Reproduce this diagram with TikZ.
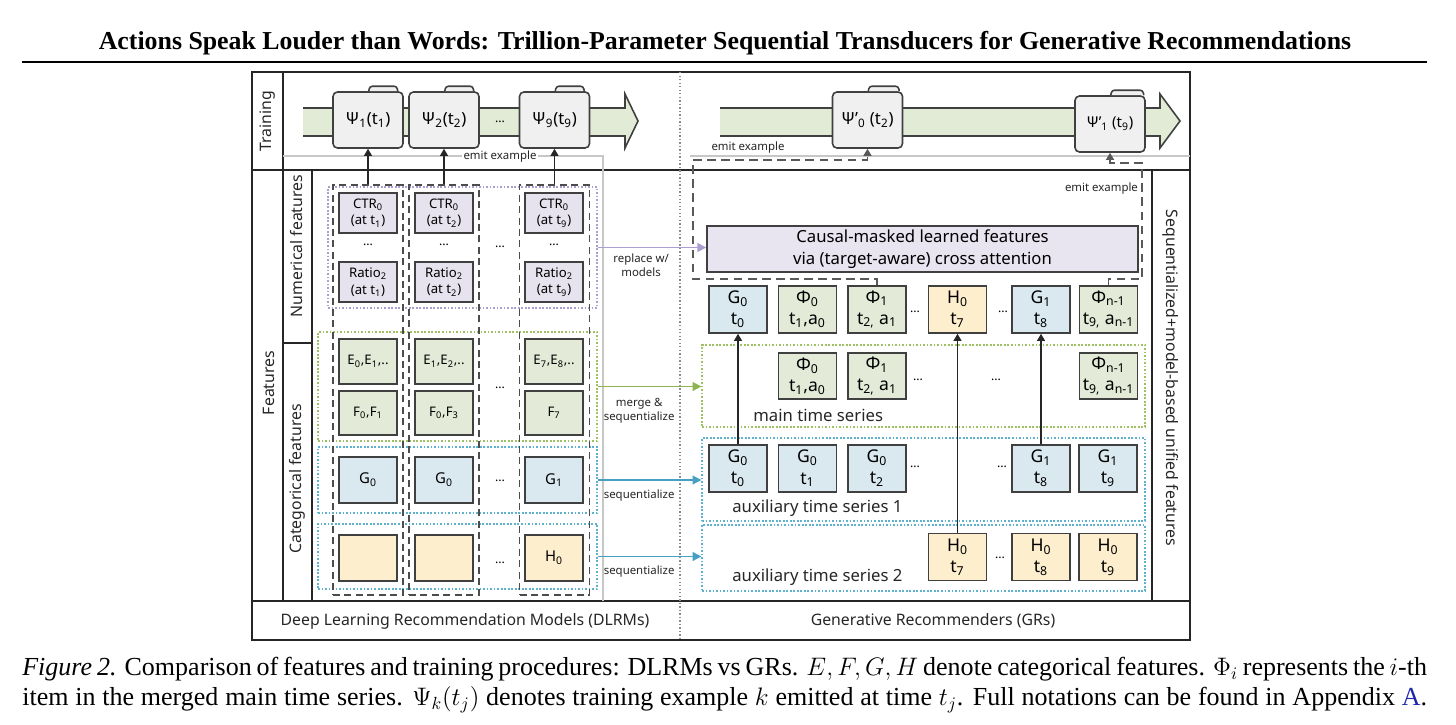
\documentclass[tikz,border=0pt]{standalone}
\usepackage{fontspec}
\setmainfont{Liberation Serif}
\setsansfont{Noto Sans}
\usepackage{tikz}
\usetikzlibrary{arrows.meta,calc}

\definecolor{bandgreen}{RGB}{226,235,214}
\definecolor{numfill}{RGB}{231,227,238}
\definecolor{effill}{RGB}{227,234,215}
\definecolor{gfill}{RGB}{218,233,240}
\definecolor{hfill}{RGB}{253,239,206}
\definecolor{causalfill}{RGB}{233,229,240}
\definecolor{purpleline}{RGB}{172,158,208}
\definecolor{greenline}{RGB}{160,192,100}
\definecolor{greenarrow}{RGB}{140,180,80}
\definecolor{blueline}{RGB}{95,178,205}
\definecolor{bluearrow}{RGB}{70,160,195}
\definecolor{linkblue}{RGB}{30,40,170}

\newcommand{\lo}[1]{\textsubscript{#1}}

\begin{document}
\begin{tikzpicture}[
    x=0.02cm, y=-0.02cm,
    frame/.style={draw=black!85, line width=1.1pt},
    sepline/.style={draw=black!85, line width=0.8pt},
    divider/.style={draw=black!45, line width=0.8pt, dash pattern=on 0.8pt off 1.2pt},
    faint/.style={draw=black!22, line width=0.6pt},
    band/.style={fill=bandgreen, draw=black!75, line width=0.9pt},
    psibox/.style={rectangle, rounded corners=2.5pt, draw=black!75, fill=black!6, line width=0.9pt,
                   minimum width=1.4cm, minimum height=1.12cm, inner sep=0pt,
                   font=\sffamily\fontsize{9.5}{11}\selectfont},
    tabshape/.style={draw=black!75, fill=black!6, line width=0.9pt, rounded corners=1.5pt},
    colbox/.style={rectangle, draw=black!70, line width=0.9pt, dash pattern=on 4pt off 2.5pt,
                   minimum width=1.4cm, minimum height=8.2cm, inner sep=0pt},
    grp/.style={rectangle, line width=0.8pt, dash pattern=on 1pt off 1pt, inner sep=0pt},
    fbox/.style={rectangle, draw=black!75, line width=0.9pt, minimum width=1.16cm, inner sep=0pt,
                 align=center, font=\sffamily\fontsize{7.5}{9.5}\selectfont},
    numbox/.style={fbox, fill=numfill, minimum height=0.8cm},
    efbox/.style={fbox, fill=effill, minimum height=0.89cm},
    gbox/.style={fbox, fill=gfill, minimum height=0.92cm, font=\sffamily\fontsize{8.5}{10}\selectfont},
    hbox/.style={fbox, fill=hfill, minimum height=0.92cm, font=\sffamily\fontsize{8.5}{10}\selectfont},
    rbox/.style={rectangle, draw=black!75, line width=0.9pt, minimum width=1.16cm, minimum height=0.94cm,
                 inner sep=0pt, align=center, font=\sffamily\fontsize{10}{12}\selectfont},
    causalbox/.style={rectangle, draw=black!75, fill=causalfill, line width=0.9pt,
                      minimum width=8.62cm, minimum height=0.92cm, inner sep=0pt, align=center,
                      font=\sffamily\fontsize{9.5}{12.5}\selectfont},
    emit/.style={-{Triangle[length=4pt,width=4.5pt]}, draw=black!85, line width=0.7pt},
    emitdash/.style={-{Triangle[length=4pt,width=4.5pt]}, draw=black!65, line width=1pt,
                     dash pattern=on 5pt off 3pt},
    feed/.style={-{Triangle[length=5pt,width=5pt]}, line width=1pt},
    small/.style={font=\sffamily\fontsize{6.5}{8}\selectfont, text=black!85, inner sep=1pt},
    dotsn/.style={font=\sffamily\fontsize{7}{8}\selectfont, inner sep=0pt},
    lbl/.style={font=\sffamily\fontsize{9}{11}\selectfont, text=black!85},
    tslbl/.style={font=\sffamily\fontsize{9.5}{11}\selectfont, text=black!85, anchor=west, inner sep=0pt}
  ]
  \useasboundingbox (0,0) rectangle (1456,724);

  %--- title ---
  \node[font=\bfseries\fontsize{14.7}{16}\selectfont] (title) at (725,43)
    {Actions Speak Louder than Words: Trillion-Parameter Sequential Transducers for Generative Recommendations};
  \draw[line width=1.7pt] (22,62) -- (1427,62);

  %--- frame ---
  \draw[frame] (252,72) rectangle (1190,640);
  \draw[frame] (252,170) -- (1190,170);
  \draw[frame] (252,601) -- (1190,601);
  \draw[sepline] (283,72) -- (283,601);
  \draw[sepline] (312,170) -- (312,601);
  \draw[sepline] (283,343) -- (312,343);
  \draw[sepline] (1152,170) -- (1152,601);
  \draw[divider] (680,72) -- (680,640);
  \draw[faint] (283,156) -- (603,156) -- (603,601);
  \draw[faint] (690,156) -- (1190,156);

  \node[lbl, rotate=90]  (ltrain) at (268,121) {Training};
  \node[lbl, rotate=90]  (lfeat)  at (269,383) {Features};
  \node[lbl, rotate=90]  (lnum)   at (297,246) {Numerical features};
  \node[lbl, rotate=90]  (lcat)   at (297,479) {Categorical features};
  \node[lbl, rotate=-90] (lseq)   at (1171,378) {Sequentialized+model-based unified features};
  \node[lbl] (ldlrm) at (465,621) {Deep Learning Recommendation Models (DLRMs)};
  \node[lbl] (lgr)   at (933,621) {Generative Recommenders (GRs)};

  %--- training timelines ---
  \filldraw[band] (303,108) -- (625,108) -- (625,94) -- (638,121) -- (625,148) -- (625,136) -- (303,136);
  \filldraw[band] (720,108) -- (1160,108) -- (1160,94) -- (1180,121) -- (1160,148) -- (1160,136) -- (720,136);

  \node[psibox] (p1) at (368,120)   {Ψ\lo{1}(t\lo{1})};
  \node[psibox] (p2) at (444,120)   {Ψ\lo{2}(t\lo{2})};
  \node[dotsn]  (pd) at (500,122)   {...};
  \node[psibox] (p9) at (554.5,120) {Ψ\lo{9}(t\lo{9})};
  \node[psibox] (q0) at (867.5,120) {Ψ'\lo{0} (t\lo{2})};
  \node[psibox, font=\sffamily\fontsize{8.5}{10}\selectfont] (q1) at (1110,124) {Ψ'\lo{1} (t\lo{9})};
  \filldraw[tabshape] ($(p1.north east)+(-35,0)$) -- ++(1,-5) -- ++(27,0) -- ++(1,5);
  \filldraw[tabshape] ($(p2.north east)+(-35,0)$) -- ++(1,-5) -- ++(27,0) -- ++(1,5);
  \filldraw[tabshape] ($(p9.north east)+(-35,0)$) -- ++(1,-5) -- ++(27,0) -- ++(1,5);
  \filldraw[tabshape] ($(q0.north east)+(-35,0)$) -- ++(1,-5) -- ++(29,0) -- ++(1,5);
  \filldraw[tabshape] ($(q1.north east)+(-35,0)$) -- ++(1,-5) -- ++(31,0) -- ++(1,5);

  \node[small, fill=white] (em1) at (500,157) {emit example};
  \node[small] (em2) at (748,148) {emit example};
  \node[small, anchor=east] (em3) at (1140,189) {emit example};

  %--- DLRM features ---
  \node[grp, draw=purpleline, minimum width=5.38cm, minimum height=2.42cm] (gnum) at (462.5,247.5) {};
  \node[grp, draw=greenline, minimum width=5.58cm, minimum height=2.18cm] (gcat) at (457.5,386.5) {};
  \node[grp, draw=blueline, minimum width=5.58cm, minimum height=1.32cm] (gg) at (457.5,480) {};
  \node[grp, draw=blueline, minimum width=5.58cm, minimum height=1.3cm] (gh) at (457.5,556.5) {};

  \node[colbox] (c1) at (368,390) {};
  \node[colbox] (c2) at (444,390) {};
  \node[colbox] (c3) at (554.5,390) {};

  \node[numbox] (ctr1) at (368,213) {CTR\lo{0}\\(at t\lo{1})};
  \node[numbox] (ctr2) at (444,213) {CTR\lo{0}\\(at t\lo{2})};
  \node[numbox] (ctr3) at (554,213) {CTR\lo{0}\\(at t\lo{9})};
  \node[dotsn] (nd1) at (368,245) {...};
  \node[dotsn] (nd2) at (444,245) {...};
  \node[dotsn] (nd3) at (554,245) {...};
  \node[dotsn] (nd4) at (500,247) {...};
  \node[numbox] (rat1) at (368,282) {Ratio\lo{2}\\(at t\lo{1})};
  \node[numbox] (rat2) at (444,282) {Ratio\lo{2}\\(at t\lo{2})};
  \node[numbox] (rat3) at (554,282) {Ratio\lo{2}\\(at t\lo{9})};

  \node[efbox] (e1) at (368,361.5) {E\lo{0},E\lo{1},..};
  \node[efbox] (e2) at (444,361.5) {E\lo{1},E\lo{2},..};
  \node[efbox] (e3) at (554,361.5) {E\lo{7},E\lo{8},..};
  \node[dotsn] (ed) at (500,388) {...};
  \node[efbox] (f1) at (368,413) {F\lo{0},F\lo{1}};
  \node[efbox] (f2) at (444,413) {F\lo{0},F\lo{3}};
  \node[efbox] (f3) at (554,413) {F\lo{7}};

  \node[gbox] (g1) at (368,480) {G\lo{0}};
  \node[gbox] (g2) at (444,480) {G\lo{0}};
  \node[dotsn] (gd) at (500,481) {...};
  \node[gbox] (g3) at (554,480) {G\lo{1}};

  \node[hbox] (h1) at (368,558) {};
  \node[hbox] (h2) at (444,558) {};
  \node[dotsn] (hd) at (500,563) {...};
  \node[hbox] (h3) at (554,558) {H\lo{0}};

  \draw[emit] (c1.north) -- (p1.south);
  \draw[emit] (c2.north) -- (p2.south);
  \draw[emit] (c3.north) -- (p9.south);

  %--- GR side ---
  \node[causalbox] (causal) at (922.5,249) {Causal-masked learned features\\via (target-aware) cross attention};

  \node[rbox, fill=gfill]  (tg0)   at (738,309.5)    {G\lo{0}\\t\lo{0}};
  \node[rbox, fill=effill] (tphi0) at (807.5,309.5)  {Φ\lo{0}\\t\lo{1},a\lo{0}};
  \node[rbox, fill=effill] (tphi1) at (877,309.5)    {Φ\lo{1}\\t\lo{2,} a\lo{1}};
  \node[dotsn] (td1) at (915,312) {...};
  \node[rbox, fill=hfill]  (th7)   at (957.5,309.5)  {H\lo{0}\\t\lo{7}};
  \node[dotsn] (td2) at (1003,312) {...};
  \node[rbox, fill=gfill]  (tg8)   at (1041,309.5)   {G\lo{1}\\t\lo{8}};
  \node[rbox, fill=effill] (tphin) at (1108.5,309.5) {Φ\lo{n-1}\\t\lo{9,} a\lo{n-1}};

  \node[grp, draw=greenline, minimum width=8.86cm, minimum height=1.64cm] (gmain) at (923.5,386) {};
  \node[rbox, fill=effill, minimum height=0.92cm] (mphi0) at (807.5,376)  {Φ\lo{0}\\t\lo{1},a\lo{0}};
  \node[rbox, fill=effill, minimum height=0.92cm] (mphi1) at (877,376)    {Φ\lo{1}\\t\lo{2,} a\lo{1}};
  \node[dotsn] (md1) at (918,380) {...};
  \node[dotsn] (md2) at (996,380) {...};
  \node[rbox, fill=effill, minimum height=0.92cm] (mphin) at (1108.5,376) {Φ\lo{n-1}\\t\lo{9,} a\lo{n-1}};
  \node[tslbl] (lmain) at (753,415) {main time series};

  \node[grp, draw=blueline, minimum width=8.86cm, minimum height=1.66cm] (gaux1) at (923.5,479.5) {};
  \node[rbox, fill=gfill] (ag0) at (738,468.5)   {G\lo{0}\\t\lo{0}};
  \node[rbox, fill=gfill] (ag1) at (807.5,468.5) {G\lo{0}\\t\lo{1}};
  \node[rbox, fill=gfill] (ag2) at (877,468.5)   {G\lo{0}\\t\lo{2}};
  \node[dotsn] (ad1) at (915,467) {...};
  \node[dotsn] (ad2) at (1002,467) {...};
  \node[rbox, fill=gfill] (ag8) at (1041,468.5)  {G\lo{1}\\t\lo{8}};
  \node[rbox, fill=gfill] (ag9) at (1108,468.5)  {G\lo{1}\\t\lo{9}};
  \node[tslbl] (laux1) at (732,508) {auxiliary time series 1};

  \node[grp, draw=blueline, minimum width=8.86cm, minimum height=1.32cm] (gaux2) at (923.5,558) {};
  \node[rbox, fill=hfill] (bh7) at (957.5,557) {H\lo{0}\\t\lo{7}};
  \node[dotsn] (bd1) at (1000,558) {...};
  \node[rbox, fill=hfill] (bh8) at (1041,557)  {H\lo{0}\\t\lo{8}};
  \node[rbox, fill=hfill] (bh9) at (1108,557)  {H\lo{0}\\t\lo{9}};
  \node[tslbl] (laux2) at (732,577) {auxiliary time series 2};

  \draw[emit] (ag0.north) -- (tg0.south);
  \draw[emit] (bh7.north) -- (th7.south);
  \draw[emit] (ag8.north) -- (tg8.south);

  %--- DLRM -> GR ---
  \draw[feed, draw=purpleline, fill=purpleline] (gnum.east) -- node[small, below=2pt, pos=0.4, align=center]{replace w/\\models} (gnum.east -| causal.west);
  \draw[feed, draw=greenarrow, fill=greenarrow] (gcat.east) -- node[small, below=5pt, pos=0.4, align=center]{merge \&\\sequentialize} (gcat.east -| gmain.west);
  \draw[feed, draw=bluearrow, fill=bluearrow] (gg.east) -- node[small, below=4pt, pos=0.4]{sequentialize} (gg.east -| gaux1.west);
  \draw[feed, draw=bluearrow, fill=bluearrow] (gh.east) -- node[small, below=4pt, pos=0.4]{sequentialize} (gh.east -| gaux2.west);

  %--- emitted examples (GR) ---
  \coordinate (ecl) at (693,160);
  \coordinate (ecr) at (1142,163);
  \draw[emitdash] (tphi1.north) -- ++(0,-6) -| (ecl) -| (q0.south);
  \draw[emitdash] (tphin.north) -- ++(0,-6) -| (ecr) -| (q1.south);

  %--- caption ---
  \node[anchor=north west, inner sep=0pt, font=\fontsize{14.8}{17}\selectfont] (cap) at (22,657)
    {\parbox{28.1cm}{\parfillskip=0pt \textit{Figure 2.} Comparison of features and training procedures: DLRMs vs GRs. $E, F, G, H$ denote categorical features. $\Phi_i$ represents the $i$-th\linebreak
     item in the merged main time series. $\Psi_k(t_j)$ denotes training example $k$ emitted at time $t_j$. Full notations can be found in Appendix \textcolor{linkblue}{A}.}};
\end{tikzpicture}
\end{document}
